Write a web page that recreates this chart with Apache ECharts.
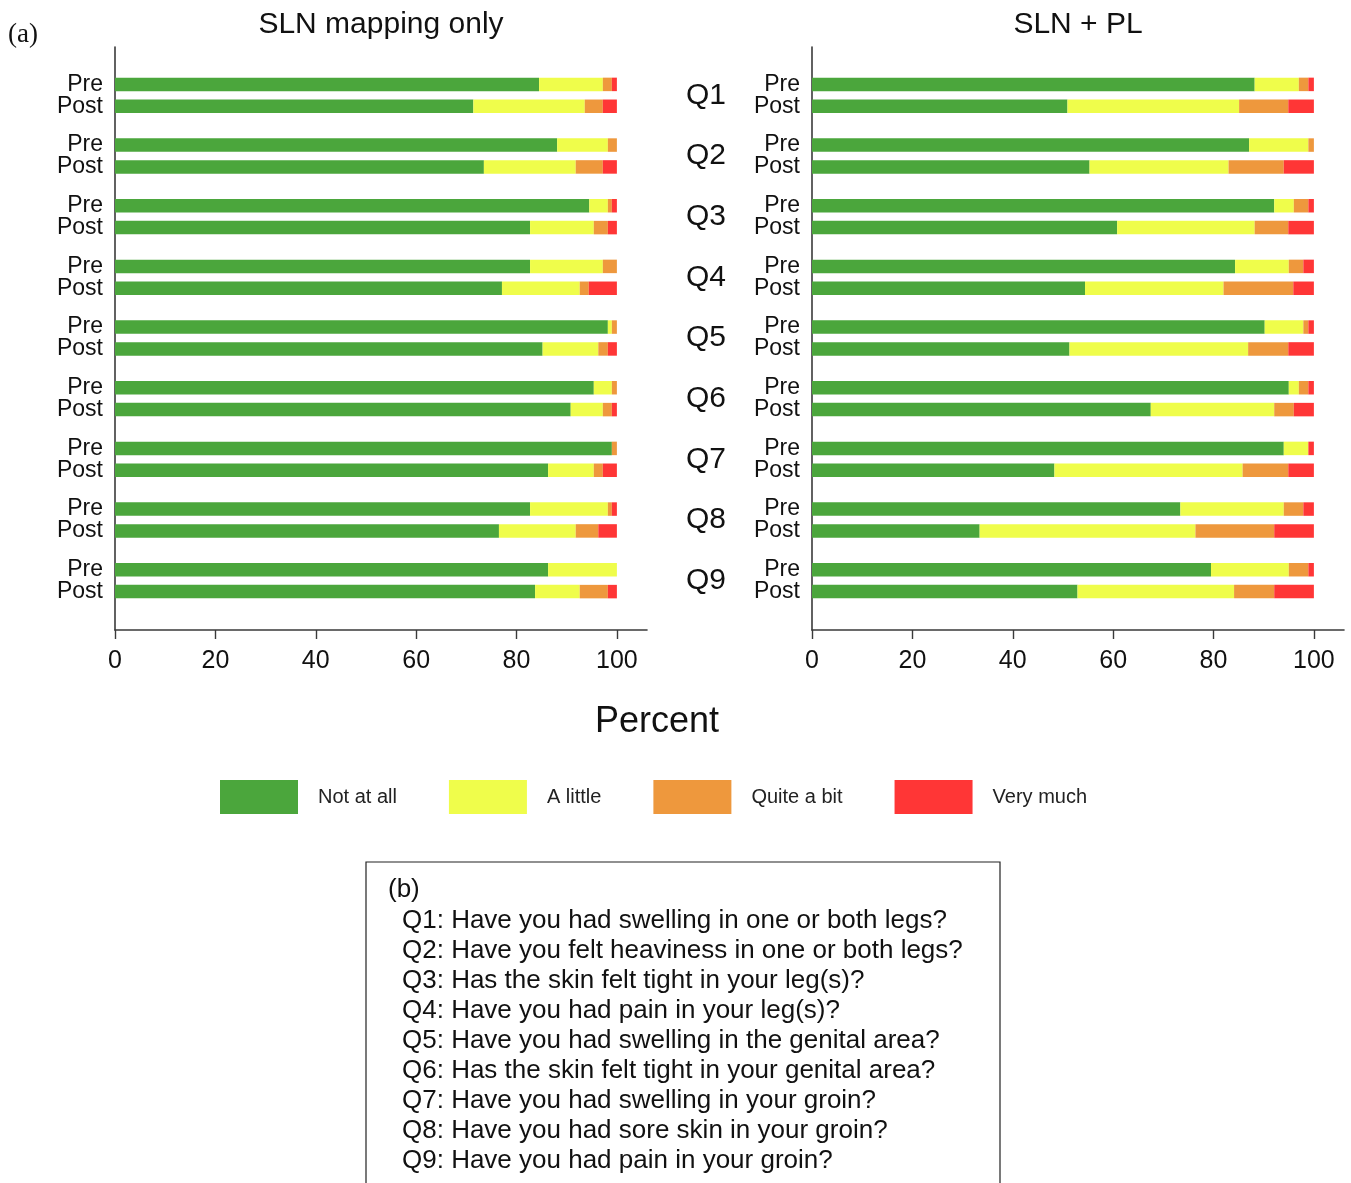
<!DOCTYPE html>
<html>
<head>
<meta charset="utf-8">
<script src="https://cdn.jsdelivr.net/npm/echarts@6/dist/echarts.min.js"></script>
<style>
  html, body { margin: 0; padding: 0; background: #fff; }
  #chart { width: 1351px; height: 1183px; }
</style>
</head>
<body>
<div id="chart"></div>
<script>
// Questions and response levels
const questions = ['Q1', 'Q2', 'Q3', 'Q4', 'Q5', 'Q6', 'Q7', 'Q8', 'Q9'];
const levels = ['Not at all', 'A little', 'Quite a bit', 'Very much'];
const xTicks = [0, 20, 40, 60, 80, 100];
const panelTitles = ['SLN mapping only', 'SLN + PL'];
const questionTexts = [
  'Q1: Have you had swelling in one or both legs?',
  'Q2: Have you felt heaviness in one or both legs?',
  'Q3: Has the skin felt tight in your leg(s)?',
  'Q4: Have you had pain in your leg(s)?',
  'Q5: Have you had swelling in the genital area?',
  'Q6: Has the skin felt tight in your genital area?',
  'Q7: Have you had swelling in your groin?',
  'Q8: Have you had sore skin in your groin?',
  'Q9: Have you had pain in your groin?'
];

// SLN mapping only — percent per level, Pre
const slnPreNotAtAll  = [84.5, 88.1, 94.5, 82.7, 98.2, 95.4, 99.0, 82.7, 86.3];
const slnPreALittle   = [12.7, 10.1, 3.7, 14.5, 0.8, 3.6, 0, 15.5, 13.7];
const slnPreQuiteABit = [1.8, 1.8, 0.8, 2.8, 1.0, 1.0, 1.0, 0.8, 0];
const slnPreVeryMuch  = [1.0, 0, 1.0, 0, 0, 0, 0, 1.0, 0];
// SLN mapping only — Post
const slnPostNotAtAll  = [71.4, 73.5, 82.7, 77.1, 85.2, 90.8, 86.3, 76.5, 83.7];
const slnPostALittle   = [22.2, 18.3, 12.7, 15.5, 11.1, 6.4, 9.1, 15.3, 8.9];
const slnPostQuiteABit = [3.6, 5.4, 2.8, 1.8, 1.9, 1.8, 1.8, 4.5, 5.6];
const slnPostVeryMuch  = [2.8, 2.8, 1.8, 5.6, 1.8, 1.0, 2.8, 3.7, 1.8];
// SLN + PL — Pre
const plPreNotAtAll  = [88.2, 87.1, 92.1, 84.3, 90.2, 95.0, 94.0, 73.4, 79.5];
const plPreALittle   = [8.8, 11.8, 3.9, 10.7, 7.7, 2.0, 4.9, 20.6, 15.5];
const plPreQuiteABit = [1.9, 1.1, 2.9, 2.9, 1.0, 1.9, 0, 3.9, 3.9];
const plPreVeryMuch  = [1.1, 0, 1.1, 2.1, 1.1, 1.1, 1.1, 2.1, 1.1];
// SLN + PL — Post
const plPostNotAtAll  = [50.9, 55.3, 60.8, 54.4, 51.3, 67.5, 48.3, 33.4, 52.9];
const plPostALittle   = [34.2, 27.7, 27.4, 27.6, 35.6, 24.6, 37.5, 43.0, 31.2];
const plPostQuiteABit = [9.8, 11.0, 6.7, 13.9, 8.0, 3.9, 9.1, 15.7, 8.0];
const plPostVeryMuch  = [5.1, 6.0, 5.1, 4.1, 5.1, 4.0, 5.1, 7.9, 7.9];

const levelColors = ['#4ba63c', '#effd4b', '#ee983d', '#ff3636'];
const FONT = '"Liberation Sans", Arial, Helvetica, sans-serif';

const panels = [
  { pre: [slnPreNotAtAll, slnPreALittle, slnPreQuiteABit, slnPreVeryMuch],
    post: [slnPostNotAtAll, slnPostALittle, slnPostQuiteABit, slnPostVeryMuch] },
  { pre: [plPreNotAtAll, plPreALittle, plPreQuiteABit, plPreVeryMuch],
    post: [plPostNotAtAll, plPostALittle, plPostQuiteABit, plPostVeryMuch] }
];

// layout
const gridLefts = [115, 812];
const gridWidth = 532;
const barTop = 65, barHeight = 546;
const frameTop = 47, frameBottomY = 630;

const grids = [], xAxes = [], yAxes = [], series = [];

gridLefts.forEach((left) => {
  // bar grid
  grids.push({ left: left, top: barTop, width: gridWidth, height: barHeight, outerBoundsMode: 'none' });
  // frame grid carrying the vertical axis line
  grids.push({ left: left, top: frameTop, width: gridWidth, height: frameBottomY - frameTop, outerBoundsMode: 'none' });
});

gridLefts.forEach((left, p) => {
  const gBar = p * 2, gFrame = p * 2 + 1;
  xAxes.push({
    type: 'value', gridIndex: gBar, min: 0, max: 106, interval: 20,
    offset: frameBottomY - (barTop + barHeight),
    axisLine: { show: true, lineStyle: { color: '#3a3a3a', width: 1.6 } },
    axisTick: { show: true, length: 9, customValues: xTicks, lineStyle: { color: '#3a3a3a', width: 1.4 } },
    axisLabel: { customValues: xTicks, fontSize: 25, color: '#111', fontFamily: FONT, margin: 19 },
    splitLine: { show: false }
  });
  xAxes.push({ type: 'value', gridIndex: gFrame, show: false, min: 0, max: 1 });

  yAxes.push({
    type: 'category', gridIndex: gBar, data: questions, inverse: true,
    axisLine: { show: false }, axisTick: { show: false }, splitLine: { show: false },
    axisLabel: {
      formatter: () => 'Pre\nPost', fontSize: 23, lineHeight: 22,
      color: '#111', fontFamily: FONT, margin: 12, padding: [6, 0, 0, 0]
    }
  });
  yAxes.push({
    type: 'value', gridIndex: gFrame, min: 0, max: 1,
    axisLine: { show: true, lineStyle: { color: '#3a3a3a', width: 1.6 } },
    axisTick: { show: false }, axisLabel: { show: false }, splitLine: { show: false }
  });
  if (p === 1) {
    // question labels between the two panels
    yAxes.push({
      type: 'category', gridIndex: gBar, data: questions, inverse: true, position: 'left',
      axisLine: { show: false }, axisTick: { show: false }, splitLine: { show: false },
      axisLabel: { fontSize: 30, color: '#111', fontFamily: FONT, margin: 86, padding: [9, 0, 0, 0] }
    });
  }
});

const barYAxis = [0, 2];
panels.forEach((panel, p) => {
  ['pre', 'post'].forEach(phase => {
    panel[phase].forEach((vals, k) => {
      series.push({
        type: 'bar', name: levels[k],
        xAxisIndex: p * 2, yAxisIndex: barYAxis[p],
        stack: 'p' + p + '-' + phase,
        barWidth: 13.5, barGap: '62%',
        itemStyle: { color: levelColors[k] },
        data: vals, silent: true
      });
    });
  });
});

const graphics = [];
panelTitles.forEach((t, p) => {
  graphics.push({
    type: 'text', x: gridLefts[p] + gridWidth / 2, y: 25,
    style: { text: t, fontSize: 30, fontFamily: FONT, fill: '#111', textAlign: 'center', textVerticalAlign: 'middle' }
  });
});
graphics.push({
  type: 'text', x: 8, y: 35,
  style: { text: '(a)', fontSize: 27, fontFamily: '"Liberation Serif", "Times New Roman", serif', fill: '#111', textVerticalAlign: 'middle' }
});
graphics.push({
  type: 'text', x: 657, y: 722,
  style: { text: 'Percent', fontSize: 36, fontFamily: FONT, fill: '#111', textAlign: 'center', textVerticalAlign: 'middle' }
});
// question key box
graphics.push({
  type: 'rect', shape: { x: 366, y: 862, width: 634, height: 360 },
  style: { fill: 'none', stroke: '#222', lineWidth: 1.2 }
});
graphics.push({
  type: 'text', x: 388, y: 890,
  style: { text: '(b)', fontSize: 26, fontFamily: FONT, fill: '#111', textVerticalAlign: 'middle' }
});
questionTexts.forEach((t, i) => {
  graphics.push({
    type: 'text', x: 402, y: 921 + i * 30,
    style: { text: t, fontSize: 26, fontFamily: FONT, fill: '#111', textVerticalAlign: 'middle' }
  });
});

const chart = echarts.init(document.getElementById('chart'), null, { renderer: 'canvas' });
chart.setOption({
  animation: false,
  backgroundColor: '#fff',
  grid: grids,
  xAxis: xAxes,
  yAxis: yAxes,
  legend: {
    data: levels, left: 220, top: 780, icon: 'rect', padding: 0,
    itemWidth: 78, itemHeight: 34, itemGap: 52, selectedMode: false,
    textStyle: { fontSize: 20, color: '#222', fontFamily: FONT, padding: [0, 0, 0, 15] }
  },
  graphic: graphics,
  series: series
});
</script>
</body>
</html>
